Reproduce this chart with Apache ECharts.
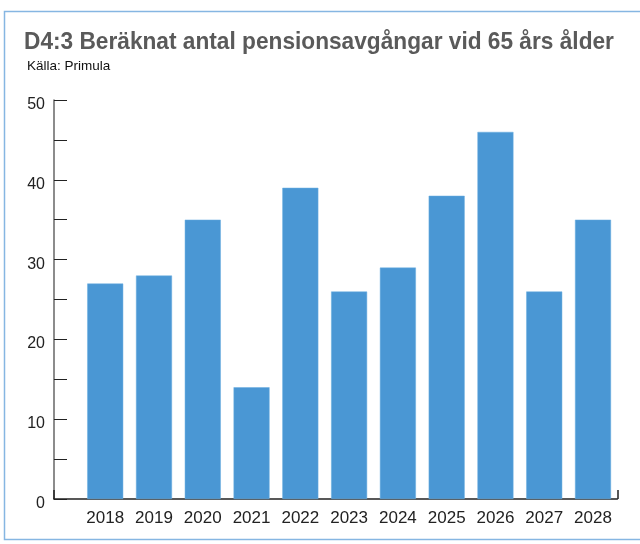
<!DOCTYPE html>
<html>
<head>
<meta charset="utf-8">
<script src="https://cdn.jsdelivr.net/npm/echarts@6/dist/echarts.min.js"></script>
<style>
  html, body { margin: 0; padding: 0; background: #fff; }
  #chart { width: 640px; height: 544px; }
</style>
</head>
<body>
<div id="chart"></div>
<script>
// år och antal pensionsavgångar
const years = ['2018', '2019', '2020', '2021', '2022', '2023', '2024', '2025', '2026', '2027', '2028'];
const retirements = [27, 28, 35, 14, 39, 26, 29, 38, 46, 26, 35];
const yLabels = [0, 10, 20, 30, 40, 50];
const yTickMarks = [0, 5, 10, 15, 20, 25, 30, 35, 40, 45, 50];

const chart = echarts.init(document.getElementById('chart'));

const xMin = -1.05;
const xMax = 10.5;

const option = {
    animation: false,
    graphic: [
        {
            // ram runt diagrammet
            type: 'rect',
            shape: { x: 4.5, y: 11.5, width: 700, height: 528 },
            style: { fill: 'none', stroke: '#86b6e2', lineWidth: 1.5 },
            silent: true
        },
        {
            type: 'text',
            left: 24,
            top: 30,
            scaleX: 0.945,
            style: {
                text: 'D4:3 Beräknat antal pensionsavgångar vid 65 års ålder',
                font: 'bold 24px "Liberation Sans", Arial, sans-serif',
                fill: '#5a5a5a'
            }
        },
        {
            type: 'text',
            left: 27,
            top: 59,
            style: {
                text: 'Källa: Primula',
                font: '13.5px "Liberation Sans", Arial, sans-serif',
                fill: '#111'
            }
        }
    ],
    grid: { left: 54, right: 22.6, top: 100, bottom: 45 },
    xAxis: {
        type: 'value',
        min: xMin,
        max: xMax,
        splitLine: { show: false },
        axisLine: { show: true, lineStyle: { color: '#222', width: 1.5 } },
        axisTick: {
            show: true,
            inside: true,
            length: 9,
            customValues: [xMin, xMax],
            lineStyle: { color: '#222', width: 1.5 }
        },
        axisLabel: {
            customValues: years.map((_, i) => i),
            formatter: (v) => years[Math.round(v)],
            fontFamily: 'Liberation Sans, Arial, sans-serif',
            fontSize: 17,
            color: '#222',
            margin: 11
        }
    },
    yAxis: {
        type: 'value',
        min: 0,
        max: 50,
        interval: 10,
        splitLine: { show: false },
        axisLine: { show: true, onZero: false, lineStyle: { color: '#666', width: 1.5 } },
        axisTick: {
            show: true,
            inside: true,
            length: 13,
            customValues: yTickMarks,
            lineStyle: { color: '#222', width: 1 }
        },
        axisLabel: {
            customValues: yLabels,
            fontFamily: 'Liberation Sans, Arial, sans-serif',
            fontSize: 16,
            color: '#222',
            margin: 9,
            verticalAlign: 'top',
            lineHeight: 9
        }
    },
    series: [
        {
            type: 'bar',
            barWidth: 36,
            data: retirements.map((v, i) => [i, v]),
            itemStyle: { color: '#4a97d4', borderColor: '#6aaee0', borderWidth: 0.5 }
        }
    ]
};

chart.setOption(option);
</script>
</body>
</html>
